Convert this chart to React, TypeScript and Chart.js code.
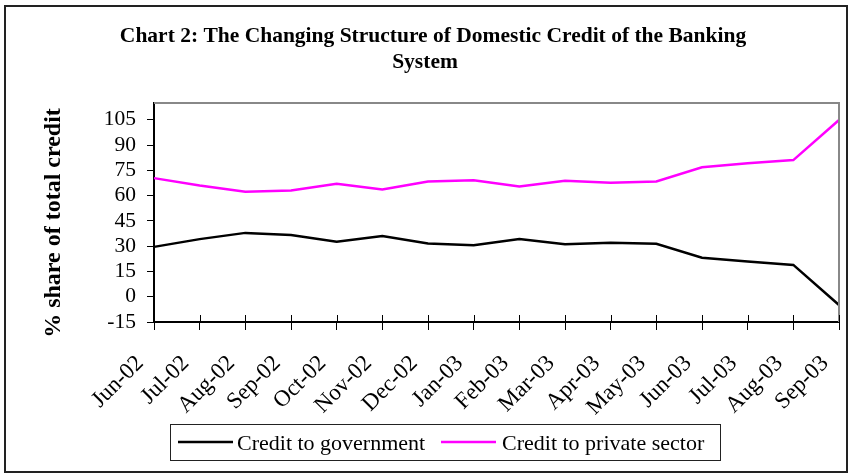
import React, { useEffect, useRef } from "react";
import { Chart, registerables } from "chart.js";

Chart.register(...registerables);

const categories = ["Jun-02", "Jul-02", "Aug-02", "Sep-02", "Oct-02", "Nov-02", "Dec-02", "Jan-03", "Feb-03", "Mar-03", "Apr-03", "May-03", "Jun-03", "Jul-03", "Aug-03", "Sep-03"];
const government = [29.6, 34.2, 37.9, 36.7, 32.7, 36.1, 31.6, 30.6, 34.3, 31.2, 32.1, 31.4, 23.2, 20.9, 18.9, -4.9];
const privateSector = [70.4, 66.0, 62.3, 63.1, 67.0, 63.7, 68.4, 69.2, 65.4, 68.8, 67.6, 68.4, 76.9, 79.3, 81.1, 104.9];
const yTicks = [-15, 0, 15, 30, 45, 60, 75, 90, 105];
const titleLines = ["Chart 2: The Changing Structure of Domestic Credit of the Banking", "System"];
const yTitle = "% share of total credit";
const seriesNames = ["Credit to government", "Credit to private sector"];
const seriesColors = ["#000000", "#FF00FF"];

const SERIF = "'Liberation Serif', 'Times New Roman', serif";

const decor = {
  id: "decor",
  beforeDraw(chart: any) {
    const ctx = chart.ctx;
    ctx.save();
    ctx.fillStyle = "#ffffff";
    ctx.fillRect(0, 0, chart.width, chart.height);
    ctx.restore();
  },
  afterDraw(chart: any) {
    const ctx = chart.ctx;
    const area = chart.chartArea;
    const xs = chart.scales.x;
    ctx.save();
    // plot area border (top & right)
    ctx.strokeStyle = "#888888";
    ctx.lineWidth = 2;
    ctx.beginPath();
    ctx.moveTo(area.left, area.top);
    ctx.lineTo(area.right, area.top);
    ctx.lineTo(area.right, area.bottom);
    ctx.stroke();
    // inner x tick marks
    ctx.strokeStyle = "#000";
    ctx.lineWidth = 1;
    for (let i = 0; i < xs.ticks.length; i++) {
      const x = Math.round(xs.getPixelForTick(i)) + 0.5;
      ctx.beginPath();
      ctx.moveTo(x, area.bottom - 7);
      ctx.lineTo(x, area.bottom);
      ctx.stroke();
    }
    // outer frame
    ctx.strokeStyle = "#222";
    ctx.lineWidth = 2;
    ctx.strokeRect(5, 6, 842, 466);
    // title
    ctx.fillStyle = "#000";
    ctx.font = "bold 21.5px " + SERIF;
    ctx.textAlign = "center";
    ctx.textBaseline = "alphabetic";
    ctx.fillText(titleLines[0], 433, 42);
    ctx.fillText(titleLines[1], 425, 68);
    // y title
    ctx.save();
    ctx.translate(54, 223);
    ctx.rotate(-Math.PI / 2);
    ctx.font = "bold 24px " + SERIF;
    ctx.textAlign = "center";
    ctx.textBaseline = "middle";
    ctx.fillText(yTitle, 0, 0);
    ctx.restore();
    // legend
    ctx.strokeStyle = "#222";
    ctx.lineWidth = 1;
    ctx.strokeRect(170.5, 424.5, 550, 36);
    ctx.font = "22px " + SERIF;
    ctx.textAlign = "left";
    ctx.textBaseline = "alphabetic";
    const lineStarts = [178, 441];
    const textStarts = [237, 502];
    for (let i = 0; i < 2; i++) {
      ctx.strokeStyle = seriesColors[i];
      ctx.lineWidth = 2.5;
      ctx.beginPath();
      ctx.moveTo(lineStarts[i], 442);
      ctx.lineTo(lineStarts[i] + 55, 442);
      ctx.stroke();
      ctx.fillStyle = "#000";
      ctx.fillText(seriesNames[i], textStarts[i], 450);
    }
    ctx.restore();
  },
};

export default function App() {
  const ref = useRef<HTMLCanvasElement | null>(null);
  useEffect(() => {
    if (!ref.current) return;
    const chart = new Chart(ref.current, {
      type: "line",
      data: {
        labels: categories,
        datasets: [
          { label: seriesNames[0], data: government, borderColor: seriesColors[0], backgroundColor: seriesColors[0], borderWidth: 2.5, pointRadius: 0, tension: 0 },
          { label: seriesNames[1], data: privateSector, borderColor: seriesColors[1], backgroundColor: seriesColors[1], borderWidth: 2.5, pointRadius: 0, tension: 0 },
        ],
      },
      options: {
        responsive: false,
        animation: false,
        layout: { padding: { top: 103, right: 10, bottom: 0, left: 0 } },
        plugins: { legend: { display: false }, title: { display: false }, tooltip: { enabled: false } },
        scales: {
          x: {
            type: "category",
            offset: false,
            grid: { drawOnChartArea: false, drawTicks: true, tickLength: 8, color: "#000", lineWidth: 1, offset: false },
            border: { display: true, color: "#000", width: 2 },
            ticks: {
              autoSkip: false,
              minRotation: 45,
              maxRotation: 45,
              color: "#000",
              font: { family: SERIF, size: 23 },
              padding: 20,
              labelOffset: -14,
            },
            afterFit: (s: any) => {
              s.height = 152;
              s.paddingLeft = 0;
              s.paddingRight = 0;
            },
          },
          y: {
            min: -15,
            max: 115,
            afterBuildTicks: (s: any) => {
              s.ticks = yTicks.map((v) => ({ value: v }));
            },
            grid: { drawOnChartArea: false, drawTicks: true, tickLength: 7, color: "#000", lineWidth: 1 },
            border: { display: true, color: "#000", width: 2 },
            ticks: { autoSkip: false, color: "#000", font: { family: SERIF, size: 21.5 }, padding: 11 },
            afterFit: (s: any) => {
              s.width = 154;
              s.paddingTop = 0;
              s.paddingBottom = 0;
            },
          },
        },
      },
      plugins: [decor],
    });
    return () => chart.destroy();
  }, []);
  return (
    <div style={{ position: "absolute", left: 0, top: 0, width: 849, height: 474, background: "#fff" }}>
      <canvas ref={ref} width={849} height={474} style={{ display: "block" }} />
    </div>
  );
}
